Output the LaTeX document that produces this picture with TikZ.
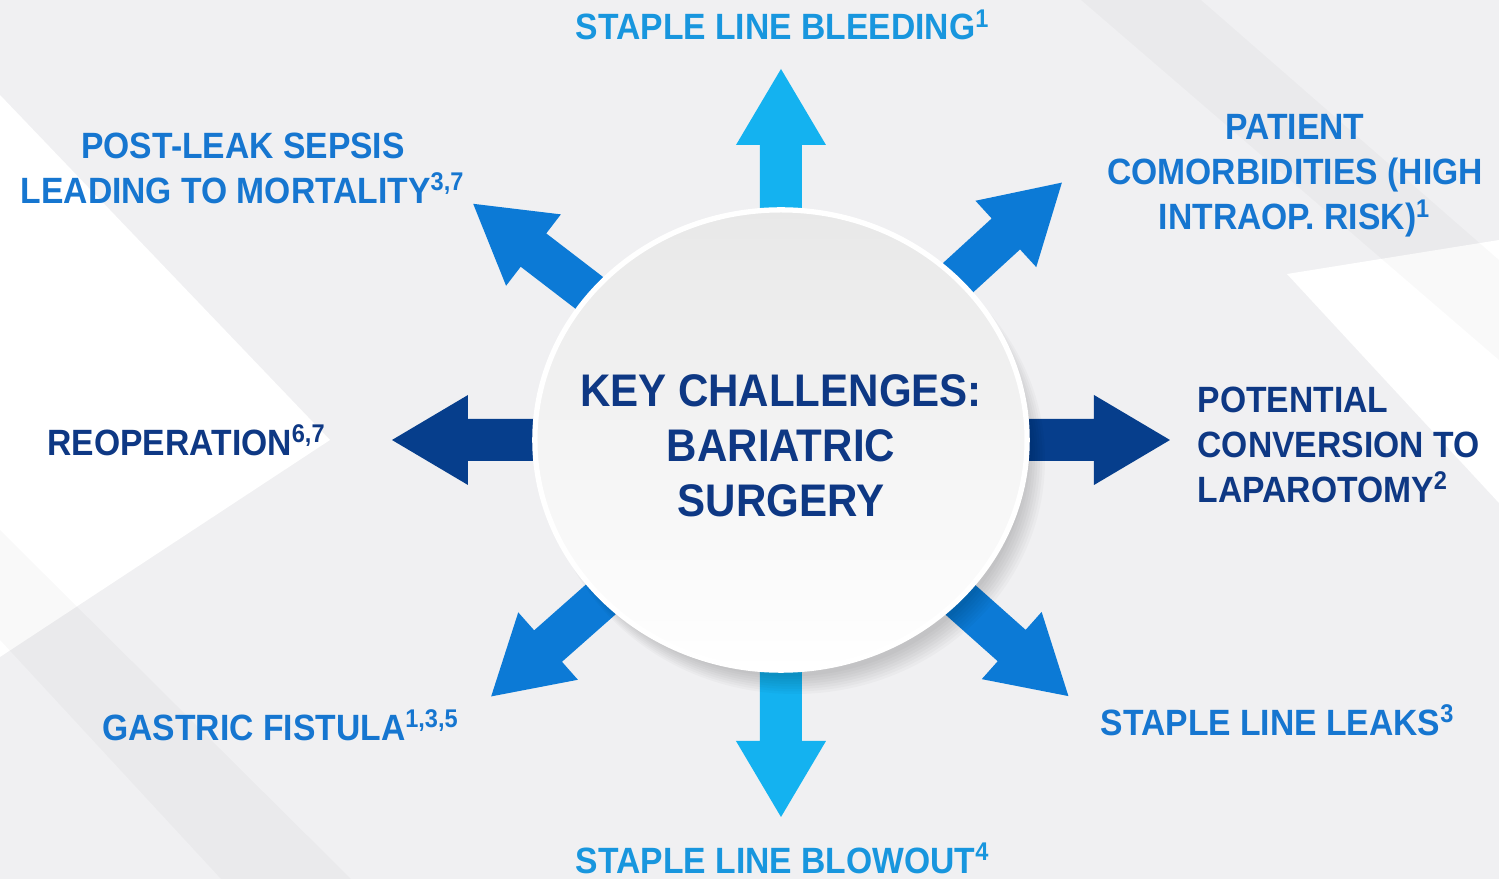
\documentclass[tikz,border=0pt]{standalone}
\usepackage{fontspec}
\setmainfont{Liberation Sans}[FakeStretch=0.92]
\usetikzlibrary{shapes.geometric}
\definecolor{arrcyan}{RGB}{20,178,240}
\definecolor{arrblue}{RGB}{12,122,214}
\definecolor{arrnavy}{RGB}{6,62,140}
\definecolor{txtcyan}{RGB}{24,150,222}
\definecolor{txtblue}{RGB}{22,118,208}
\definecolor{txtnavy}{RGB}{14,56,132}
\definecolor{bggray}{RGB}{240,240,242}

\begin{document}
\begin{tikzpicture}[x=0.01cm,y=0.01cm,
    lbl/.style={font=\fontsize{10.4}{12.8}\selectfont\bfseries,align=center,inner sep=0pt},
    hub/.style={ellipse,minimum width=4.92cm,minimum height=4.6cm,inner sep=0pt,top color=black!9,bottom color=white,
      draw=white,line width=1.5pt},
    hubtext/.style={text=txtnavy,font=\fontsize{13}{15.6}\selectfont\bfseries,align=center,inner sep=0pt}]
    \fill[bggray] (-781,-439) rectangle (718,440);
    \fill[white] (-781,345) -- (-451,0) -- (-781,-217) -- cycle;
    \fill[white] (506,166) -- (718,200) -- (718,-63) -- cycle;
    \fill[black,opacity=0.025] (-781,-200) -- (-560,-439) -- (-430,-439) -- (-781,-90) -- cycle;
    \fill[black,opacity=0.025] (300,440) -- (420,440) -- (718,180) -- (718,80) -- cycle;
    \foreach \a/\len/\c in {90/371/arrcyan,270/377/arrcyan,180/389/arrnavy,0/389/arrnavy,
        142.5/388/arrblue,42.5/381/arrblue,221.5/387/arrblue,318.3/385/arrblue}
      \fill[\c,rotate=\a] (150,-21) -- (\len-76,-21) -- (\len-76,-45) -- (\len,0)
        -- (\len-76,45) -- (\len-76,21) -- (150,21) -- cycle;
    \foreach \i in {1,...,8}
      \fill[black,opacity=0.025] (6+\i,-12-\i) ellipse ({238+\i*1.5} and {222+\i*1.5});
    \node[hub] (hub) at (0,0) {};
    \node[hubtext] (title) at ([yshift=-0.06cm]hub.center) {KEY CHALLENGES:\\BARIATRIC\\SURGERY};
    \node[lbl,text=txtcyan] (bleed) at (2,415) {STAPLE LINE BLEEDING\textsuperscript{1}};
    \node[lbl,text=txtblue] (sepsis) at (-538,272) {POST-LEAK SEPSIS\\LEADING TO MORTALITY\textsuperscript{3,7}};
    \node[lbl,text=txtblue] (patient) at (514,264) {PATIENT\\COMORBIDITIES (HIGH\\INTRAOP. RISK)\textsuperscript{1}};
    \node[lbl,text=txtnavy] (reop) at (-594,0) {REOPERATION\textsuperscript{6,7}};
    \node[lbl,text=txtnavy,align=left,anchor=west] (conv) at (416,-5) {POTENTIAL\\CONVERSION TO\\LAPAROTOMY\textsuperscript{2}};
    \node[lbl,text=txtblue] (fistula) at (-500,-285) {GASTRIC FISTULA\textsuperscript{1,3,5}};
    \node[lbl,text=txtblue] (leaks) at (497,-280) {STAPLE LINE LEAKS\textsuperscript{3}};
    \node[lbl,text=txtcyan] (blowout) at (2,-418) {STAPLE LINE BLOWOUT\textsuperscript{4}};
\end{tikzpicture}
\end{document}
